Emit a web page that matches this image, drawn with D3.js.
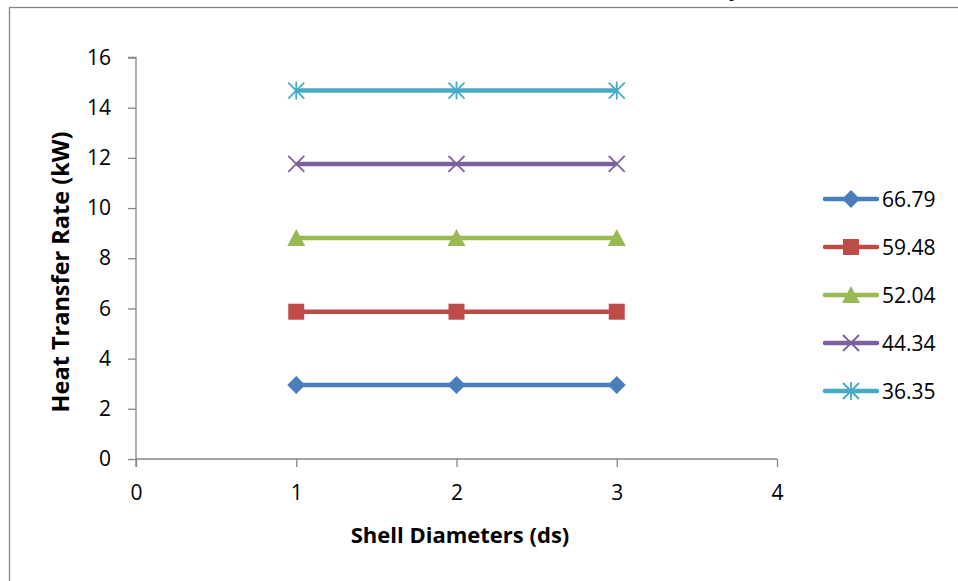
<!DOCTYPE html>
<html>
<head>
<meta charset="utf-8">
<script src="https://cdn.jsdelivr.net/npm/d3@7"></script>
<style>
  html, body { margin: 0; padding: 0; background: #fff; }
  svg { display: block; }
  text { font-family: "Open Sans", "Noto Sans", sans-serif; fill: #000; }
</style>
</head>
<body>
<svg id="chart" width="958" height="581"></svg>
<script>
// Shell diameters on the x axis
const shellDiameters = [1, 2, 3];

// One series per legend entry
const seriesNames = ["66.79", "59.48", "52.04", "44.34", "36.35"];
const heat66 = [2.95, 2.95, 2.95];
const heat59 = [5.87, 5.87, 5.87];
const heat52 = [8.81, 8.81, 8.81];
const heat44 = [11.76, 11.76, 11.76];
const heat36 = [14.68, 14.68, 14.68];
const seriesValues = [heat66, heat59, heat52, heat44, heat36];

const seriesColors = ["#4A7EBB", "#BE4B48", "#98B954", "#7D60A0", "#46AAC5"];
const seriesMarkers = ["diamond", "square", "triangle", "cross", "asterisk"];

const xTicks = [0, 1, 2, 3, 4];
const yTicks = [0, 2, 4, 6, 8, 10, 12, 14, 16];

const svg = d3.select("#chart");

// Chart frame
svg.append("rect")
  .attr("x", 9.5).attr("y", 7.5)
  .attr("width", 970).attr("height", 600)
  .attr("fill", "none").attr("stroke", "#868686").attr("stroke-width", 1.3);

// Descender of a line of surrounding text, cut off at the top edge
svg.append("text")
  .attr("x", 729).attr("y", -4)
  .style("font-family", "'Liberation Serif', serif")
  .style("font-size", "20px")
  .text("p");

const x = d3.scaleLinear().domain([0, 4]).range([136, 777]);
const y = d3.scaleLinear().domain([0, 16]).range([459, 57.5]);

const axisColor = "#868686";

// Y axis
const yAxis = svg.append("g")
  .attr("transform", `translate(${x(0)},0)`)
  .call(d3.axisLeft(y).tickValues(yTicks).tickSize(8).tickPadding(17).tickFormat(d3.format("d")));
// X axis
const xAxis = svg.append("g")
  .attr("transform", `translate(0,${y(0)})`)
  .call(d3.axisBottom(x).tickValues(xTicks).tickSize(8).tickPadding(18).tickFormat(d3.format("d")));

[xAxis, yAxis].forEach(g => {
  g.select(".domain").attr("stroke", axisColor).attr("stroke-width", 1.3);
  g.selectAll(".tick line").attr("stroke", axisColor).attr("stroke-width", 1.3);
  g.selectAll(".tick text")
    .style("font-family", "'Open Sans', sans-serif")
    .style("font-size", "21px").attr("fill", "#000");
});
// the y axis line extends down to the x-axis tick
yAxis.select(".domain").attr("d", `M-8,${y(16)}H0V${y(0) + 8}`);
xAxis.select(".domain").attr("d", `M${x(0)},0H${x(4)}`);

// Axis titles
svg.append("text")
  .attr("transform", `translate(69,${272}) rotate(-90)`)
  .attr("text-anchor", "middle")
  .style("font-size", "23.5px").style("font-weight", "bold")
  .text("Heat Transfer Rate (kW)");

svg.append("text")
  .attr("x", 460).attr("y", 543)
  .attr("text-anchor", "middle")
  .style("font-size", "22px").style("font-weight", "bold")
  .text("Shell Diameters (ds)");

// Marker drawing
function drawMarker(g, type, color, cx, cy) {
  const s = 8;
  if (type === "diamond") {
    g.append("path").attr("d", `M${cx},${cy - 9}L${cx + 9},${cy}L${cx},${cy + 9}L${cx - 9},${cy}Z`)
      .attr("fill", color);
  } else if (type === "square") {
    g.append("rect").attr("x", cx - s).attr("y", cy - s).attr("width", 2 * s).attr("height", 2 * s)
      .attr("fill", color);
  } else if (type === "triangle") {
    g.append("path").attr("d", `M${cx},${cy - 9}L${cx + 9},${cy + 8}L${cx - 9},${cy + 8}Z`)
      .attr("fill", color);
  } else if (type === "cross") {
    g.append("path").attr("d", `M${cx - s},${cy - s}L${cx + s},${cy + s}M${cx - s},${cy + s}L${cx + s},${cy - s}`)
      .attr("stroke", color).attr("stroke-width", 1.8).attr("fill", "none");
  } else if (type === "asterisk") {
    g.append("path").attr("d", `M${cx - s},${cy - s}L${cx + s},${cy + s}M${cx - s},${cy + s}L${cx + s},${cy - s}M${cx},${cy - s - 1}V${cy + s + 1}`)
      .attr("stroke", color).attr("stroke-width", 1.8).attr("fill", "none");
  }
}

const line = d3.line().x((d, i) => x(shellDiameters[i])).y(d => y(d));

seriesValues.forEach((vals, k) => {
  const g = svg.append("g");
  g.append("path").datum(vals).attr("d", line)
    .attr("fill", "none").attr("stroke", seriesColors[k]).attr("stroke-width", 4.5);
  vals.forEach((v, i) => drawMarker(g, seriesMarkers[k], seriesColors[k], x(shellDiameters[i]), y(v)));
});

// Legend
const legendTop = 199, legendStep = 48;
seriesNames.forEach((name, k) => {
  const ly = legendTop + k * legendStep;
  const g = svg.append("g");
  g.append("line").attr("x1", 825).attr("x2", 877).attr("y1", ly).attr("y2", ly)
    .attr("stroke", seriesColors[k]).attr("stroke-width", 4.5).attr("stroke-linecap", "round");
  drawMarker(g, seriesMarkers[k], seriesColors[k], 851, ly);
  g.append("text").attr("x", 882).attr("y", ly + 7.5)
    .style("font-size", "21px").text(name);
});
</script>
</body>
</html>
